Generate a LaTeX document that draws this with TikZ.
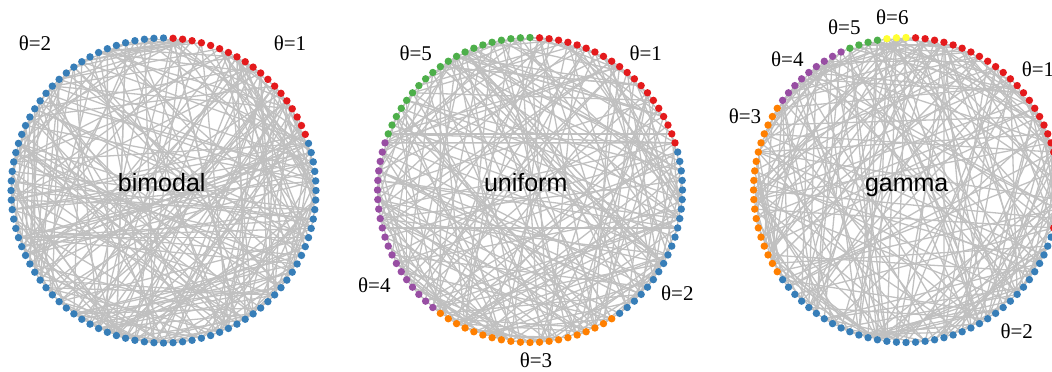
\documentclass[tikz,border=0pt]{standalone}
\usepackage{fontspec}
\setmainfont{Liberation Serif}
\newfontfamily\namefont{Liberation Sans}
\usetikzlibrary{backgrounds}
\definecolor{setred}{RGB}{228, 26, 28}
\definecolor{setblue}{RGB}{55, 126, 184}
\definecolor{setgreen}{RGB}{77, 175, 74}
\definecolor{setpurple}{RGB}{152, 78, 163}
\definecolor{setorange}{RGB}{255, 127, 0}
\definecolor{setyellow}{RGB}{255, 255, 51}
\definecolor{edgegray}{RGB}{192, 192, 192}
\tikzstyle{dot} = [circle, inner sep=0pt, minimum size=7.4pt]
\tikzstyle{edge} = [draw=edgegray, line width=1.3pt]
\tikzstyle{thetalabel} = [font=\fontsize{21}{24}\selectfont, inner sep=0pt]
\tikzstyle{graphname} = [font=\namefont\fontsize{25}{28}\selectfont, anchor=base, inner sep=0pt]

\begin{document}
\begin{tikzpicture}[x=1pt, y=1pt]
        \useasboundingbox (0,0) rectangle (1052,372);
        \pgfmathsetseed{2718}

        % Bimodal
        \begin{scope}[shift={(163.5,181.5)}]
            \foreach \k in {1,...,19} \node [dot, fill=setred] (b\k) at ({90-3.6*\k}:152.5) {};
            \foreach \k in {20,...,100} \node [dot, fill=setblue] (b\k) at ({90-3.6*\k}:152.5) {};
            \begin{scope}[on background layer]
                \foreach \e in {1,...,280} {
                    \pgfmathrandominteger{\from}{1}{100}
                    \pgfmathrandominteger{\to}{1}{100}
                    \path [edge] (b\from.center) -- (b\to.center);
                }
            \end{scope}
        \end{scope}
        \node [graphname] (bname) at (161.7,180.3) {bimodal};
        \node [thetalabel] (b2) at (35,329) {θ=2};
        \node [thetalabel] (b1) at (290,329) {θ=1};

        % Uniform
        \begin{scope}[shift={(530,182)}]
            \foreach \k in {1,...,20} \node [dot, fill=setred] (u\k) at ({90-3.6*\k}:152.5) {};
            \foreach \k in {21,...,40} \node [dot, fill=setblue] (u\k) at ({90-3.6*\k}:152.5) {};
            \foreach \k in {41,...,60} \node [dot, fill=setorange] (u\k) at ({90-3.6*\k}:152.5) {};
            \foreach \k in {61,...,80} \node [dot, fill=setpurple] (u\k) at ({90-3.6*\k}:152.5) {};
            \foreach \k in {81,...,100} \node [dot, fill=setgreen] (u\k) at ({90-3.6*\k}:152.5) {};
            \begin{scope}[on background layer]
                \foreach \e in {1,...,250} {
                    \pgfmathrandominteger{\from}{1}{100}
                    \pgfmathrandominteger{\to}{1}{100}
                    \path [edge] (u\from.center) -- (u\to.center);
                }
            \end{scope}
        \end{scope}
        \node [graphname] (uname) at (525.7,180.3) {uniform};
        \node [thetalabel] (u5) at (415.7,319) {θ=5};
        \node [thetalabel] (u1) at (645.7,319) {θ=1};
        \node [thetalabel] (u4) at (374.3,87) {θ=4};
        \node [thetalabel] (u2) at (677.3,79) {θ=2};
        \node [thetalabel] (u3) at (536,12) {θ=3};

        % Gamma
        \begin{scope}[shift={(906,182)}]
            \foreach \k in {1,...,29} \node [dot, fill=setred] (g\k) at ({90-3.6*\k}:152.5) {};
            \foreach \k in {30,...,65} \node [dot, fill=setblue] (g\k) at ({90-3.6*\k}:152.5) {};
            \foreach \k in {66,...,84} \node [dot, fill=setorange] (g\k) at ({90-3.6*\k}:152.5) {};
            \foreach \k in {85,...,93} \node [dot, fill=setpurple] (g\k) at ({90-3.6*\k}:152.5) {};
            \foreach \k in {94,...,97} \node [dot, fill=setgreen] (g\k) at ({90-3.6*\k}:152.5) {};
            \foreach \k in {98,...,100} \node [dot, fill=setyellow] (g\k) at ({90-3.6*\k}:152.5) {};
            \begin{scope}[on background layer]
                \foreach \e in {1,...,250} {
                    \pgfmathrandominteger{\from}{1}{100}
                    \pgfmathrandominteger{\to}{1}{100}
                    \path [edge] (g\from.center) -- (g\to.center);
                }
            \end{scope}
        \end{scope}
        \node [graphname] (gname) at (906.7,180.3) {gamma};
        \node [thetalabel] (g6) at (892.3,354.7) {θ=6};
        \node [thetalabel] (g5) at (844.3,344.7) {θ=5};
        \node [thetalabel] (g4) at (787.3,312.7) {θ=4};
        \node [thetalabel] (g1) at (1038,302.7) {θ=1};
        \node [thetalabel] (g3) at (745,255.3) {θ=3};
        \node [thetalabel] (g2) at (1016.7,40.3) {θ=2};
    \end{tikzpicture}
\end{document}
